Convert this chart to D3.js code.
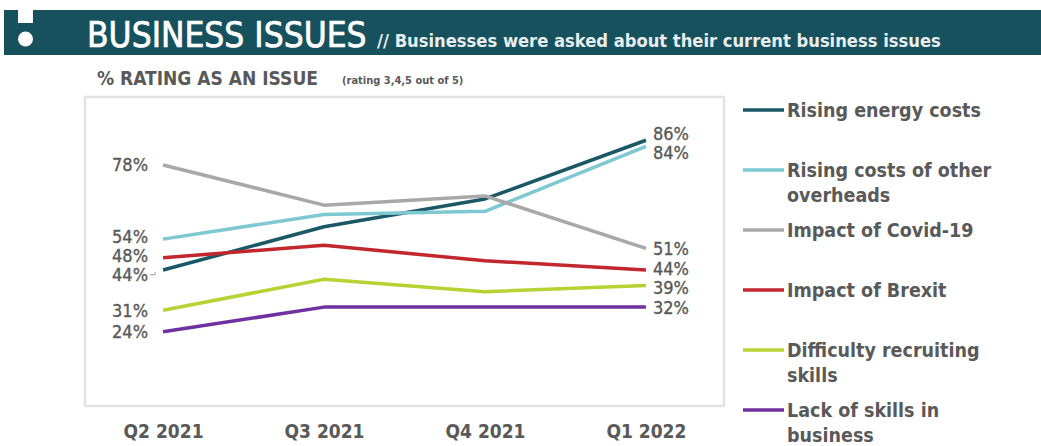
<!DOCTYPE html>
<html>
<head>
<meta charset="utf-8">
<script src="https://cdnjs.cloudflare.com/ajax/libs/d3/7.8.5/d3.min.js"></script>
<style>
  body { margin: 0; background: #fff; }
  svg text { font-family: "DejaVu Sans Condensed", "DejaVu Sans", sans-serif; }
</style>
</head>
<body>
<div id="chart"></div>
<script>
// quarters on the x axis
var quarters = ['Q2 2021', 'Q3 2021', 'Q4 2021', 'Q1 2022'];

// one array per issue, % rating 3,4,5 out of 5
var risingEnergy = [44, 58, 67, 86];
var otherOverheads = [54, 62, 63, 84];
var covid = [78, 65, 68, 51];
var brexit = [48, 52, 47, 44];
var recruiting = [31, 41, 37, 39];
var lackSkills = [24, 32, 32, 32];

var seriesNames = [
    ['Rising energy costs'],
    ['Rising costs of other', 'overheads'],
    ['Impact of Covid-19'],
    ['Impact of Brexit'],
    ['Difficulty recruiting', 'skills'],
    ['Lack of skills in', 'business']
];
var seriesValues = [risingEnergy, otherOverheads, covid, brexit, recruiting, lackSkills];
var seriesColors = ['#1b5866', '#7ec8d1', '#a8a8a8', '#c1272d', '#b6d334', '#7030a0'];

var fig = {
    width: 1041,
    height: 446,
    frame: {left: 85, right: 724, top: 97, bottom: 406},
    text_color: '#595959',
    svg: null,

    init: function() {
        this.svg = d3.select('#chart').append('svg')
            .attr('width', this.width)
            .attr('height', this.height);

        this.x = d3.scalePoint()
            .domain(quarters)
            .range([this.frame.left, this.frame.right])
            .padding(0.485);

        this.y = d3.scaleLinear()
            .domain([0, 100])
            .range([this.frame.bottom, this.frame.top]);
    },

    draw: function() {
        this._draw_header();
        this._draw_frame();
        this._draw_lines();
        this._draw_labels();
        this._draw_axis();
        this._draw_legend();
    },

    _draw_header: function() {
        var g = this.svg.append('g');
        g.append('rect')
            .attr('x', 4).attr('y', 10)
            .attr('width', this.width - 4).attr('height', 45)
            .attr('fill', '#17515e');
        // the "!" icon
        g.append('rect')
            .attr('x', 18).attr('y', 10)
            .attr('width', 15).attr('height', 13)
            .attr('fill', '#fff');
        g.append('circle')
            .attr('cx', 25.5).attr('cy', 39).attr('r', 7.5)
            .attr('fill', '#fff');
        g.append('text')
            .attr('x', 87).attr('y', 47)
            .attr('font-size', 35)
            .attr('fill', '#fff')
            .attr('stroke', '#fff')
            .attr('stroke-width', 0.7)
            .text('BUSINESS ISSUES');
        g.append('text')
            .attr('x', 377).attr('y', 47)
            .attr('font-size', 18.2)
            .attr('font-weight', 'bold')
            .attr('fill', '#e8eef0')
            .text('// Businesses were asked about their current business issues');

        this.svg.append('text')
            .attr('x', 97).attr('y', 85)
            .attr('font-size', 19)
            .attr('font-weight', 'bold')
            .attr('font-family', '"DejaVu Sans", sans-serif')
            .attr('fill', this.text_color)
            .text('% RATING AS AN ISSUE');
        this.svg.append('text')
            .attr('x', 342).attr('y', 84)
            .attr('font-size', 11)
            .attr('font-weight', 'bold')
            .attr('fill', this.text_color)
            .text('(rating 3,4,5 out of 5)');
    },

    _draw_frame: function() {
        var f = this.frame;
        this.svg.append('rect')
            .attr('x', f.left).attr('y', f.top)
            .attr('width', f.right - f.left)
            .attr('height', f.bottom - f.top)
            .attr('fill', 'none')
            .attr('stroke', '#e3e3e3')
            .attr('stroke-width', 2.5);
    },

    _draw_lines: function() {
        var x = this.x, y = this.y;
        var line = d3.line()
            .x(function(d, i) { return x(quarters[i]); })
            .y(function(d) { return y(d); });

        this.svg.append('g')
            .selectAll('path')
            .data(seriesValues)
            .enter()
            .append('path')
            .attr('d', line)
            .attr('fill', 'none')
            .attr('stroke', function(d, i) { return seriesColors[i]; })
            .attr('stroke-width', 3.5)
            .attr('stroke-linejoin', 'round');
    },

    // push labels apart so they don't overlap
    _spread: function(items, gap) {
        items.sort(function(a, b) { return a.y - b.y; });
        for (var iter = 0; iter < 50; iter++) {
            var moved = false;
            for (var i = 1; i < items.length; i++) {
                var d = items[i].y - items[i - 1].y;
                if (d < gap) {
                    var push = (gap - d) / 2;
                    items[i].y += push;
                    items[i - 1].y -= push;
                    moved = true;
                }
            }
            if (!moved) break;
        }
        return items;
    },

    _draw_labels: function() {
        var fig = this;
        var first = seriesValues.map(function(v) {
            return {v: v[0], y0: fig.y(v[0]), y: fig.y(v[0])};
        });
        var last = seriesValues.map(function(v) {
            var n = v.length - 1;
            return {v: v[n], y0: fig.y(v[n]), y: fig.y(v[n])};
        });
        this._spread(first, 19);
        this._spread(last, 19);

        var g = this.svg.append('g')
            .attr('font-size', 18)
            .attr('fill', this.text_color)
            .attr('stroke', this.text_color)
            .attr('stroke-width', 0.35);

        var xl = this.x(quarters[0]) - 15;
        g.selectAll('text.left')
            .data(first)
            .enter()
            .append('text')
            .attr('class', 'left')
            .attr('x', xl)
            .attr('y', function(d) { return d.y; })
            .attr('dy', '0.36em')
            .attr('text-anchor', 'end')
            .text(function(d) { return d.v + '%'; });

        // leader for labels moved away from their point
        g.selectAll('path.leader')
            .data(first.filter(function(d) { return Math.abs(d.y - d.y0) > 4; }))
            .enter()
            .append('path')
            .attr('class', 'leader')
            .attr('d', function(d) {
                return 'M' + (xl + 2) + ',' + d.y + 'H' + (xl + 7) + 'V' + (d.y0 + 2);
            })
            .attr('fill', 'none')
            .attr('stroke', '#b0b0b0')
            .attr('stroke-width', 1.2);

        var xr = this.x(quarters[quarters.length - 1]) + 7;
        g.selectAll('text.right')
            .data(last)
            .enter()
            .append('text')
            .attr('class', 'right')
            .attr('x', xr)
            .attr('y', function(d) { return d.y; })
            .attr('dy', '0.36em')
            .attr('text-anchor', 'start')
            .text(function(d) { return d.v + '%'; });
    },

    _draw_axis: function() {
        var axis = d3.axisBottom(this.x).tickSize(0).tickPadding(0);
        var g = this.svg.append('g')
            .attr('transform', 'translate(0,' + 424 + ')')
            .call(axis);
        g.select('.domain').remove();
        g.selectAll('text')
            .attr('font-size', 19)
            .attr('font-weight', 'bold')
            .attr('fill', this.text_color)
            .attr('font-family', null);
    },

    _draw_legend: function() {
        var fig = this;
        var g = this.svg.append('g');
        var items = g.selectAll('g.item')
            .data(seriesNames)
            .enter()
            .append('g')
            .attr('class', 'item')
            .attr('transform', function(d, i) {
                return 'translate(743,' + (110 + i * 60) + ')';
            });
        items.append('line')
            .attr('x1', 0).attr('x2', 41)
            .attr('stroke', function(d, i) { return seriesColors[i]; })
            .attr('stroke-width', 3.5);
        items.each(function(d) {
            var item = d3.select(this);
            d.forEach(function(t, j) {
                item.append('text')
                    .attr('x', 44)
                    .attr('y', j * 24.5)
                    .attr('dy', '0.36em')
                    .attr('font-size', 19.5)
                    .attr('font-weight', 'bold')
                    .attr('fill', fig.text_color)
                    .text(t);
            });
        });
    }
};

fig.init();
fig.draw();
</script>
</body>
</html>
